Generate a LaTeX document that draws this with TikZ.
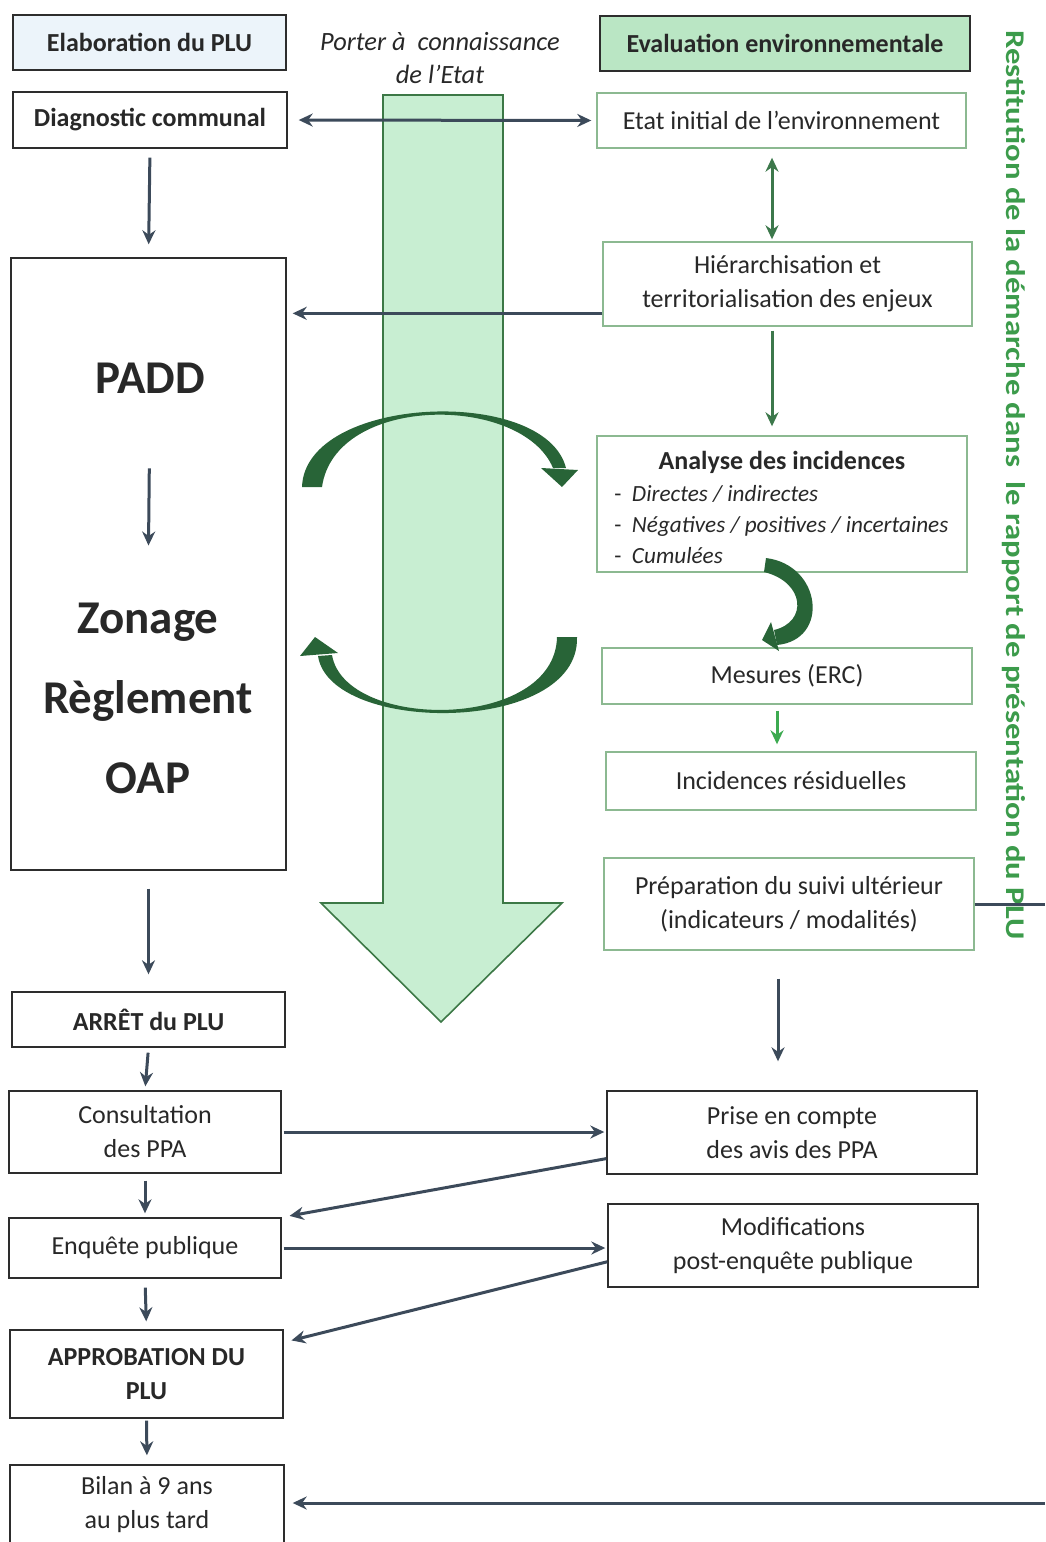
\documentclass[tikz,border=0pt]{standalone}
\usepackage{fontspec}
\setmainfont{Carlito}
\usepackage{xcolor}
\usepackage{tikz}
\usetikzlibrary{arrows.meta, positioning, calc}
\definecolor{pltext}{RGB}{40, 40, 40}
\definecolor{plgray}{RGB}{45, 45, 45}
\definecolor{plslate}{RGB}{60, 74, 90}
\definecolor{pldkgreen}{RGB}{60, 120, 75}
\definecolor{plbright}{RGB}{60, 170, 80}
\definecolor{plarc}{RGB}{40, 100, 55}
\definecolor{plshaft}{RGB}{200, 238, 210}
\definecolor{plshaftline}{RGB}{60, 120, 70}
\definecolor{plevalfill}{RGB}{186, 230, 196}
\definecolor{plelabfill}{RGB}{236, 244, 250}
\definecolor{plboxgreen}{RGB}{140, 185, 145}
\definecolor{plrestit}{RGB}{60, 155, 75}

\begin{document}
\begin{tikzpicture}[x=0.5pt, y=-0.5pt, >={Stealth[length=7pt, width=6.5pt]},
  boxsize/.style 2 args={minimum width={#1*0.5pt}, minimum height={#2*0.5pt}},
  plubox/.style={draw=plgray, line width=0.7pt, inner sep=0pt, align=center,
    text=pltext, font=\fontsize{13}{17}\selectfont},
  plubold/.style={plubox, font=\fontsize{13}{17}\selectfont\bfseries},
  eebox/.style={plubox, draw=plboxgreen},
  bigtxt/.style={text=pltext, font=\fontsize{23.5}{40}\selectfont\bfseries, align=center},
  slatearrow/.style={->, draw=plslate, line width=1.5pt},
  greenarrow/.style={->, draw=pldkgreen, line width=1.5pt},
  arcfill/.style={fill=plarc},
]
  \useasboundingbox (0,0) rectangle (1045,1542);

  % --- big "porter a connaissance" arrow ---
  \filldraw[fill=plshaft, draw=plshaftline, line width=0.8pt]
    (383,95) -- (503,95) -- (503,903) -- (562,903) -- (441,1022)
    -- (321,903) -- (383,903) -- cycle;
  \node[font=\fontsize{13.2}{16.5}\selectfont\itshape, text=pltext, align=center]
    (porter) at (440,58) {Porter à\ \ connaissance\\de l'Etat};

  % --- left column: elaboration du PLU ---
  \node[plubold, fill=plelabfill, boxsize={273}{55}] (elab) at (149.5,42.5) {Elaboration du PLU};
  \node[plubold, boxsize={274}{56}] (diag) at (150,120) {Diagnostic communal};
  \node[plubox, boxsize={275}{612}] (padd) at (148.5,564) {};
  \node[bigtxt] (paddtxt) at (150,378) {PADD};
  \node[bigtxt] (zonage) at (148,698) {Zonage\\Règlement\\OAP};
  \node[plubold, boxsize={273}{55}] (arret) at (148.5,1019.5) {ARRÊT du PLU};
  \node[plubox, boxsize={272}{82}] (consult) at (145,1132) {Consultation\\des PPA};
  \node[plubox, boxsize={272}{60}] (enq) at (145,1248) {Enquête publique};
  \node[plubold, boxsize={273}{88}] (approb) at (146.5,1374) {APPROBATION DU\\PLU};
  \node[plubox, boxsize={274}{80}] (bilan) at (147,1505) {Bilan à 9 ans\\au plus tard};

  % --- right column: evaluation environnementale ---
  \node[plubold, fill=plevalfill, boxsize={370}{55}] (eval) at (785,43.5) {Evaluation environnementale};
  \node[eebox, boxsize={369}{55}] (etat) at (781.5,120.5) {Etat initial de l'environnement};
  \node[eebox, boxsize={369}{84}] (hier) at (787.5,284) {Hiérarchisation et\\territorialisation des enjeux};
  \node[eebox, boxsize={370}{136}] (analyse) at (782,504) {};
  \node[text=pltext, font=\fontsize{13}{17}\selectfont\bfseries] (anatitle) at (782,462) {Analyse des incidences};
  \node[text=pltext, font=\fontsize{11.6}{15.5}\selectfont, align=left, anchor=west, inner sep=0pt]
    (analist) at (614,525) {-\ \ \textit{Directes / indirectes}\\
      -\ \ \textit{Négatives / positives / incertaines}\\
      -\ \ \textit{Cumulées}};
  \node[eebox, boxsize={370}{56}] (mesures) at (787,676) {Mesures (ERC)};
  \node[eebox, boxsize={370}{58}] (incid) at (791,781) {Incidences résiduelles};
  \node[eebox, boxsize={370}{92}] (prep) at (789,904) {Préparation du suivi ultérieur\\(indicateurs / modalités)};
  \node[plubox, boxsize={370}{83}] (prise) at (792,1132.5) {Prise en compte\\des avis des PPA};
  \node[plubox, boxsize={370}{83}] (modif) at (793,1245.5) {Modifications\\post-enquête publique};

  % --- vertical label ---
  \node[rotate=-90, text=plrestit, font=\fontsize{13.5}{16}\selectfont\bfseries] (restit) at (1014,485)
    {\scalebox{1.21}[1]{Restitution de la démarche dans\ \ le rapport de présentation du PLU}};

  % --- left column flow ---
  \draw[slatearrow, shorten <=4.5pt, shorten >=6.5pt] (diag.south) -- (padd.north);
  \draw[slatearrow, shorten <=34pt, shorten >=25pt] (paddtxt.south) -- (zonage.north);
  \draw[slatearrow, shorten <=9pt, shorten >=8.5pt] (padd.south) -- (arret.north);
  \draw[slatearrow, shorten <=2.5pt, shorten >=2pt] (arret.south) -- (consult.north);
  \draw[slatearrow, shorten <=3.5pt, shorten >=2pt] (consult.south) -- (enq.north);
  \draw[slatearrow, shorten <=4.5pt, shorten >=4pt] (enq.south) -- (approb.north);
  \draw[slatearrow, shorten <=1pt, shorten >=4.5pt] (approb.south) -- (bilan.north);

  % --- links between the two columns ---
  \draw[slatearrow, <->, shorten <=5.5pt, shorten >=2.5pt] (diag.east) -- (etat.west);
  \draw[slatearrow, shorten >=3pt] (hier.189) -- (padd.east |- hier.189);
  \draw[slatearrow, shorten <=1pt, shorten >=1pt] (consult.east) -- (consult.east -| prise.west);
  \draw[slatearrow, shorten >=4pt] (prise.188) -- (enq.north east);
  \draw[slatearrow, shorten <=1pt, shorten >=1pt] (enq.east) -- (enq.east -| modif.west);
  \draw[slatearrow, shorten >=4pt] (modif.185) -- (approb.13);

  % --- right column flow ---
  \draw[greenarrow, <->, shorten <=4.5pt, shorten >=1pt]
    ([xshift=-4.75pt]etat.south) -- ([xshift=-4.75pt]etat.south |- hier.north);
  \draw[greenarrow, shorten <=2pt, shorten >=4.5pt]
    ([xshift=-7.75pt]hier.south) -- ([xshift=-7.75pt]hier.south |- analyse.north);
  \draw[greenarrow, draw=plbright, shorten <=3pt, shorten >=3.5pt]
    ([xshift=-5pt]mesures.south) -- ([xshift=-5pt]mesures.south |- incid.north);
  \draw[slatearrow, shorten <=14pt, shorten >=14.5pt]
    ([xshift=-5.5pt]prep.south) -- ([xshift=-5.5pt]prep.south |- prise.north);

  % --- return to the edge ---
  \coordinate (edgeP) at (1045,907);
  \coordinate (edgeB) at (1045,1503);
  \draw[plslate, line width=1.5pt] (prep.east) -- (prep.east -| edgeP);
  \draw[slatearrow, shorten >=4pt] (edgeB) -- (edgeB -| bilan.east);

  % --- iteration arcs (tapered, drawn as shapes) ---
  \fill[arcfill] (302,487) .. controls (305,395) and (545,385) .. (566,468)
    -- (553,468) .. controls (522,394) and (335,394) .. (322,487) -- cycle;
  \fill[arcfill] (541,468) -- (578,470) -- (562,487) -- cycle;
  \fill[arcfill] (577,637) .. controls (580,735) and (330,735) .. (318,656)
    -- (332,655) .. controls (345,731) and (555,731) .. (557,637) -- cycle;
  \fill[arcfill] (300,656) -- (315,637) -- (338,653) -- cycle;
  \fill[arcfill] (766,558) .. controls (822,565) and (830,640) .. (777,645)
    -- (774,630) .. controls (808,622) and (805,582) .. (764,572) -- cycle;
  \fill[arcfill] (771,622) -- (779,651) -- (762,640) -- cycle;

\end{tikzpicture}
\end{document}
